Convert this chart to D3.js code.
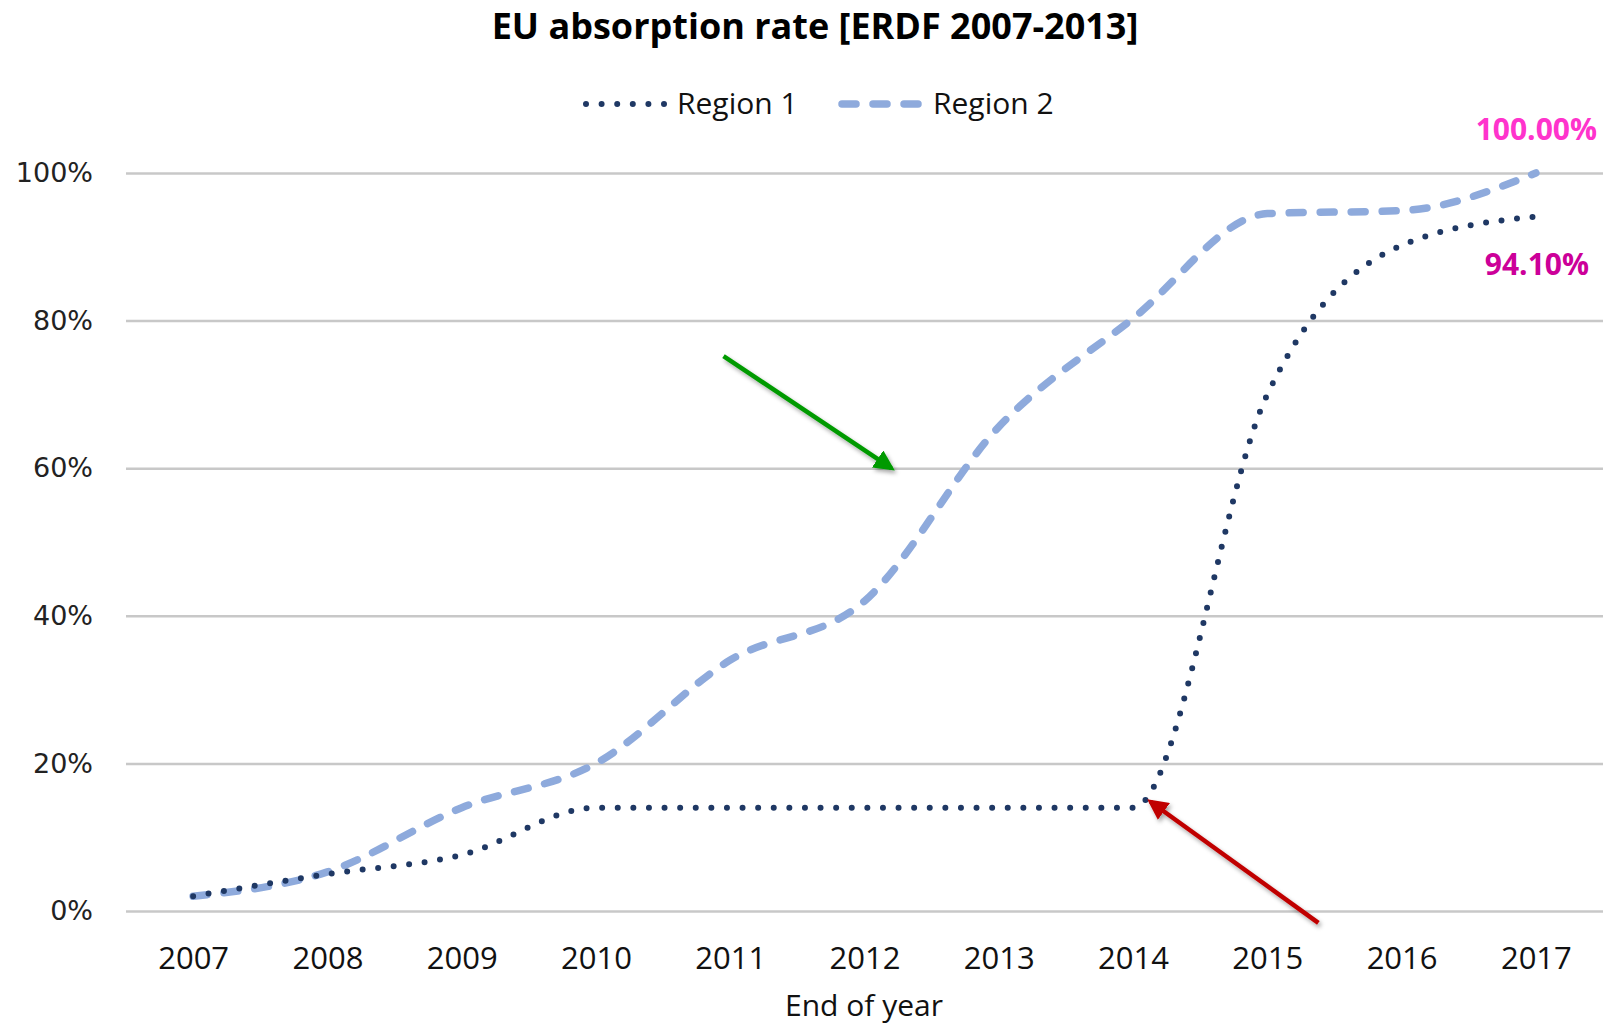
<!DOCTYPE html>
<meta charset="utf-8">
<head>
    <title>EU absorption rate</title>
</head>
<script src="https://d3js.org/d3.v7.min.js"></script>
<style>
    body { margin: 0; background: #fff; }
    .grid line { stroke: #c8c8c8; stroke-width: 2.5px; }
    .grid .domain { display: none; }
    .yaxis text { font-family: "DejaVu Sans", Verdana, sans-serif; font-size: 27px; fill: #222; }
    .xaxis text { font-family: "Liberation Sans Narrow", "Open Sans", sans-serif; font-size: 31px; fill: #111; }
    .axis .domain { display: none; }
</style>
<div id="viz"></div>
<script>
// data
var years   = [2007, 2008, 2009, 2010, 2011, 2012, 2013, 2014, 2015, 2016, 2017];
var region1 = [2.0, 5.0, 7.6, 14.0, 14.0, 14.0, 14.0, 14.0, 70.0, 90.2, 94.1];
var region2 = [2.0, 5.3, 14.0, 20.0, 34.0, 42.0, 65.6, 80.3, 94.5, 94.9, 100.0];
var yTicks  = [0, 20, 40, 60, 80, 100];
// annotation arrows, in data units (year, %)
var arrows = [
    {from: [2010.95, 75.2], to: [2012.2, 60.0], color: '#009a00'},
    {from: [2015.38, -1.6], to: [2014.13, 14.8], color: '#c00000'}
];

var W = 1603, H = 1027;
var root = d3.select('#viz').append('svg')
    .attr('width', W).attr('height', H);

var defs = root.append('defs');
var shadow = defs.append('filter').attr('id', 'shadow')
    .attr('x', '-20%').attr('y', '-20%').attr('width', '140%').attr('height', '140%');
shadow.append('feDropShadow')
    .attr('dx', 2).attr('dy', 3).attr('stdDeviation', 2)
    .attr('flood-color', '#000').attr('flood-opacity', 0.35);
arrows.forEach(function(a, i) {
    defs.append('marker')
        .attr('id', 'head' + i)
        .attr('viewBox', '0 0 10 10')
        .attr('refX', 8).attr('refY', 5)
        .attr('markerWidth', 4.6).attr('markerHeight', 4.6)
        .attr('orient', 'auto')
      .append('path')
        .attr('d', 'M0,0 L10,5 L0,10 z')
        .attr('fill', a.color);
});

var x = d3.scaleLinear().domain([2006.5, 2017.5]).range([126, 1603]);
var y = d3.scaleLinear().domain([0, 100]).range([911, 173]);

// gridlines
root.append('g')
    .attr('class', 'grid')
    .attr('transform', 'translate(126,0)')
    .call(d3.axisRight(y).tickValues(yTicks).tickSize(1603 - 126).tickFormat(''));

// y labels
root.append('g')
    .attr('class', 'axis yaxis')
    .attr('transform', 'translate(93,0)')
    .call(d3.axisLeft(y).tickValues(yTicks).tickSize(0).tickPadding(0)
        .tickFormat(function(d) { return d + '%'; }));

// x labels
root.append('g')
    .attr('class', 'axis xaxis')
    .attr('transform', 'translate(0,947)')
    .call(d3.axisBottom(x).tickValues(years).tickSize(0).tickPadding(0)
        .tickFormat(d3.format('d')));

var line = d3.line()
    .x(function(d, i) { return x(years[i]); })
    .y(function(d) { return y(d); })
    .curve(d3.curveMonotoneX);

root.append('path')
    .datum(region2)
    .attr('fill', 'none')
    .attr('stroke', '#8eaadc')
    .attr('stroke-width', 7.5)
    .attr('stroke-linecap', 'round')
    .attr('stroke-dasharray', '14 17')
    .attr('d', line);

root.append('path')
    .datum(region1)
    .attr('fill', 'none')
    .attr('stroke', '#1f3864')
    .attr('stroke-width', 6)
    .attr('stroke-linecap', 'round')
    .attr('stroke-dasharray', '0 15.6')
    .attr('d', line);

// arrows
arrows.forEach(function(a, i) {
    root.append('line')
        .attr('x1', x(a.from[0])).attr('y1', y(a.from[1]))
        .attr('x2', x(a.to[0])).attr('y2', y(a.to[1]))
        .attr('stroke', a.color)
        .attr('stroke-width', 4.5)
        .attr('marker-end', 'url(#head' + i + ')')
        .attr('filter', 'url(#shadow)');
});

// end labels
root.append('text')
    .attr('x', 1597).attr('y', y(100) - 33)
    .style('font-family', '"Open Sans", sans-serif')
    .style('font-size', '30px').style('font-weight', 'bold')
    .style('text-anchor', 'end').style('fill', '#ff33cc')
    .text(d3.format('.2f')(region2[10]) + '%');

root.append('text')
    .attr('x', 1589).attr('y', y(region1[10]) + 58)
    .style('font-family', '"Open Sans", sans-serif')
    .style('font-size', '30px').style('font-weight', 'bold')
    .style('text-anchor', 'end').style('fill', '#cc0099')
    .text(d3.format('.2f')(region1[10]) + '%');

// title
root.append('text')
    .attr('x', 815).attr('y', 39)
    .style('font-family', '"Open Sans", sans-serif')
    .style('font-size', '36px').style('font-weight', 'bold')
    .style('text-anchor', 'middle').style('fill', '#000')
    .text('EU absorption rate [ERDF 2007-2013]');

// legend
var legend = [
    {name: 'Region 1', color: '#1f3864', width: 6, dash: '0 15.6', x: 583},
    {name: 'Region 2', color: '#8eaadc', width: 7.5, dash: '14 17', x: 839}
];
legend.forEach(function(l) {
    root.append('line')
        .attr('x1', l.x + 3).attr('x2', l.x + 82)
        .attr('y1', 104).attr('y2', 104)
        .attr('stroke', l.color).attr('stroke-width', l.width)
        .attr('stroke-linecap', 'round').attr('stroke-dasharray', l.dash);
    root.append('text')
        .attr('x', l.x + 94).attr('y', 114)
        .style('font-family', '"Liberation Sans Narrow", "Open Sans", sans-serif')
        .style('font-size', '30px').style('fill', '#111')
        .text(l.name);
});

// x axis title
root.append('text')
    .attr('x', 864).attr('y', 1016)
    .style('font-family', '"Liberation Sans Narrow", "Open Sans", sans-serif')
    .style('font-size', '30px').style('text-anchor', 'middle').style('fill', '#111')
    .text('End of year');
</script>
